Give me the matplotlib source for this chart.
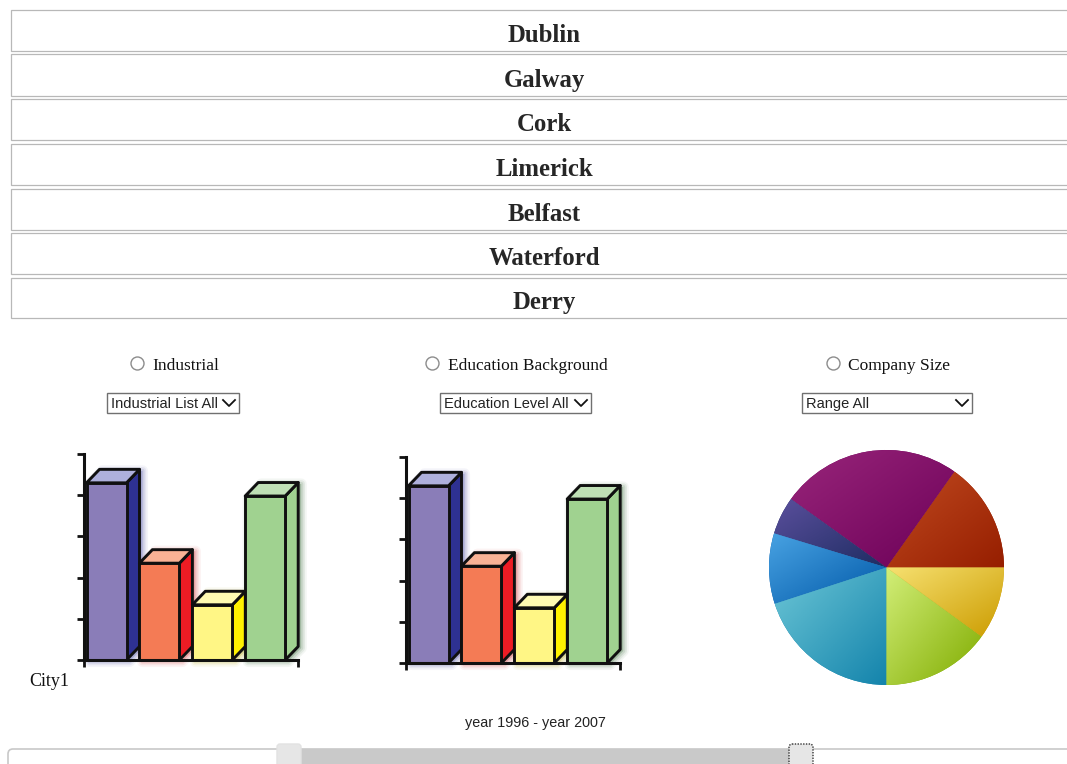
# Dashboard screenshot: city list, filters, two 3D bar charts, a pie and a year slider
import numpy as np
import matplotlib
matplotlib.use('Agg')
import matplotlib.pyplot as plt
from matplotlib.colors import LinearSegmentedColormap
from matplotlib.patches import Circle, FancyBboxPatch, Polygon, Rectangle

cities = ['Dublin', 'Galway', 'Cork', 'Limerick', 'Belfast', 'Waterford', 'Derry']
city_rows = [(10, 51), (54, 96), (99, 140), (144, 185), (189, 230), (233, 274), (278, 318)]

filter_labels = ['Industrial', 'Education Background', 'Company Size']
filter_radio_x = [137.5, 432.5, 833.5]
filter_text_x = [152, 447.5, 848.5]
select_labels = ['Industrial List All', 'Education Level All', 'Range All']
select_boxes = [(107, 239), (440, 591), (802, 972)]

# bar heights, same for both charts
bar_values = [4.3, 2.35, 1.34, 3.98]
bar_front = ['#8a7db8', '#f47b55', '#fff685', '#a0d290']
bar_top = ['#aeb0dc', '#f9b295', '#fffbb2', '#bfe0b5']
bar_side = ['#2e3192', '#ed1c24', '#fff200', '#a0d290']
bar_glow = ['#2e3192', '#c81e24', '#b0a000', '#205a20']

# pie shares, counter clockwise from 3 o'clock
pie_values = [15.2, 24.9, 5.2, 9.7, 20.0, 15.0, 10.0]
pie_light = ['#c04a20', '#98257a', '#5a4f9c', '#48a2e2', '#6cc6d6', '#d2ee78', '#f6e070']
pie_dark = ['#961e00', '#6c0058', '#1e2c62', '#0058a8', '#1484ac', '#80ac00', '#cc9c00']

W, H = 1067, 764
fig = plt.figure(figsize=(W / 100, H / 100), dpi=100)


def px_axes(left, top, right, bottom):
    return fig.add_axes([left / W, 1 - bottom / H, (right - left) / W, (bottom - top) / H])


# page layer in pixel coordinates
page = fig.add_axes([0, 0, 1, 1])
page.set_xlim(0, W)
page.set_ylim(H, 0)
page.axis('off')

for name, (y0, y1) in zip(cities, city_rows):
    page.add_patch(Rectangle((11, y0), 1100, y1 - y0, fc='white', ec='#b8b8b8', lw=0.9))
    page.text(544, (y0 + y1) / 2 + 5, name, ha='center', va='center', family='Liberation Serif',
              weight='bold', fontsize=17.8, color='#262626')

for label, rx, tx in zip(filter_labels, filter_radio_x, filter_text_x):
    page.add_patch(Circle((rx, 363.5), 6.5, fc='white', ec='#8c8c8c', lw=1))
    page.text(tx, 366, label, ha='left', va='center', family='Liberation Serif', fontsize=12.5, color='#111111')

for label, (x0, x1) in zip(select_labels, select_boxes):
    page.add_patch(Rectangle((x0, 393), x1 - x0, 20, fc='white', ec='#707070', lw=1))
    page.text(x0 + 4, 404, label, ha='left', va='center', family='Liberation Sans', fontsize=10.5, color='#222222')
    page.plot([x1 - 16, x1 - 10, x1 - 4], [400, 406, 400], color='#111111', lw=1.3)

page.text(29, 681, 'City1', ha='left', va='center', family='Liberation Serif', fontsize=13, color='#111111')
page.text(535, 723, 'year 1996 - year 2007', ha='center', va='center', family='Liberation Sans',
          fontsize=10.4, color='#222222')

# slider
page.add_patch(FancyBboxPatch((8, 749), 1100, 40, boxstyle='round,pad=0,rounding_size=5', fc='white',
                              ec='#c8c8c8', lw=1.2))
page.add_patch(Rectangle((300, 749), 489, 20, fc='#c9c9c9', ec='none'))
page.add_patch(FancyBboxPatch((277, 744), 24, 30, boxstyle='round,pad=0,rounding_size=3', fc='#e6e6e6', ec='#e2e2e2', lw=1))
page.add_patch(FancyBboxPatch((789, 744), 24, 30, boxstyle='round,pad=0,rounding_size=3', fc='#e6e6e6', ec='#333333',
                              lw=1, ls=(0, (1, 1))))


def bar_chart(left, base):
    # px sizes: bar pitch 52.9, one y unit 41.2, depth 13
    top = base - 206
    right = left + 214
    ax = px_axes(left, top, right, base)
    ax.patch.set_alpha(0)
    pitch, unit = 52.9, 41.2
    x_off = 22.5 / pitch
    ax.set_xlim(-x_off, -x_off + 214 / pitch)
    ax.set_ylim(0, 5)
    dx, dy = 13 / pitch, 13.5 / unit
    width = 40 / pitch
    positions = np.arange(len(bar_values))

    for x, v, glow in zip(positions, bar_values, bar_glow):
        x0, x1 = x - width / 2, x + width / 2
        outline = [(x0, 0), (x0, v), (x0 + dx, v + dy), (x1 + dx, v + dy), (x1 + dx, dy), (x1, 0)]
        for lw, a in ((8, 0.05), (5.5, 0.08), (3, 0.12)):
            ax.add_patch(Polygon(np.array(outline) + [3 / pitch, -1.5 / unit], closed=True, fc=glow, ec=glow,
                                 lw=lw, alpha=a, joinstyle='round', clip_on=False, zorder=1))

    for i, (x, v) in enumerate(zip(positions, bar_values)):
        x0, x1 = x - width / 2, x + width / 2
        z = 3 + i
        ax.add_patch(Polygon([(x1, 0), (x1, v), (x1 + dx, v + dy), (x1 + dx, dy)], closed=True, fc=bar_side[i],
                             ec='#101010', lw=2.1, joinstyle='round', zorder=z, clip_on=False))
        ax.add_patch(Polygon([(x0, v), (x0 + dx, v + dy), (x1 + dx, v + dy), (x1, v)], closed=True, fc=bar_top[i],
                             ec='#101010', lw=2.1, joinstyle='round', zorder=z, clip_on=False))
        ax.bar(x, v, width=width, color=bar_front[i], edgecolor='#101010', linewidth=2.1, zorder=z, clip_on=False)

    for side in ('top', 'right'):
        ax.spines[side].set_visible(False)
    for side in ('left', 'bottom'):
        ax.spines[side].set_linewidth(2.2)
        ax.spines[side].set_color('#111111')
        ax.spines[side].set_zorder(10)
    ax.set_yticks(range(6))
    ax.set_xticks(ax.get_xlim())
    ax.tick_params(axis='y', length=5, width=2, labelleft=False, color='#111111')
    ax.tick_params(axis='x', length=5, width=2, labelbottom=False, color='#111111')


bar_chart(84, 660)
bar_chart(406, 663)

# pie with a diagonal gradient in each wedge
pie_ax = px_axes(769, 450, 1004, 685)
wedges, _ = pie_ax.pie(pie_values, startangle=0, counterclock=True, radius=1, colors=pie_dark)
ramp = np.add.outer(np.linspace(1, 0, 60), np.linspace(0, 1, 60)) / 2
for w, c0, c1 in zip(wedges, pie_light, pie_dark):
    box = w.get_path().get_extents()
    cmap = LinearSegmentedColormap.from_list('w', [c0, c1])
    im = pie_ax.imshow(ramp, cmap=cmap, origin='lower', aspect='auto', vmin=0, vmax=1,
                       extent=(box.x0, box.x1, box.y0, box.y1), zorder=2)
    im.set_clip_path(w)
pie_ax.set_xlim(-1, 1)
pie_ax.set_ylim(-1, 1)
pie_ax.set_aspect('equal')
pie_ax.axis('off')

fig.savefig('out.png', dpi=100)
